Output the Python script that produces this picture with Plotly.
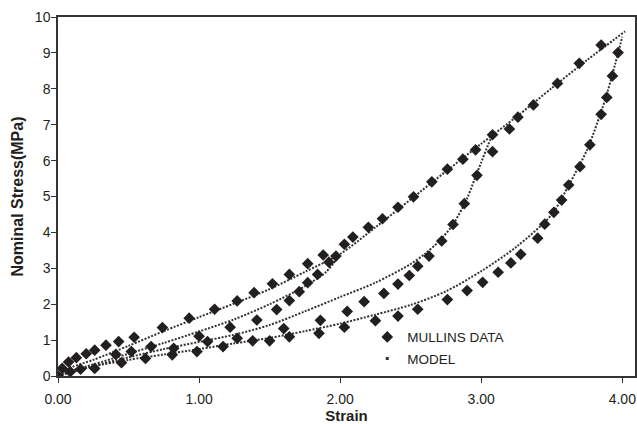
import plotly.graph_objects as go

# ---------------- data ----------------
# Mullins experimental data, branch by branch
load_x = [0, 0.03, 0.075, 0.13, 0.2, 0.26, 0.34, 0.43, 0.54, 0.74, 0.93, 1.11, 1.27, 1.39,
          1.52, 1.64, 1.77, 1.88, 2.03, 2.09, 2.20, 2.30, 2.41, 2.52, 2.65, 2.76, 2.87,
          2.96, 3.08, 3.20, 3.26, 3.37, 3.54, 3.695, 3.85]
load_y = [0, 0.21, 0.39, 0.51, 0.62, 0.72, 0.86, 0.96, 1.08, 1.35, 1.61, 1.86, 2.09, 2.32,
          2.57, 2.83, 3.13, 3.37, 3.67, 3.87, 4.14, 4.38, 4.70, 4.99, 5.41, 5.76, 6.04,
          6.30, 6.72, 6.88, 7.21, 7.55, 8.15, 8.71, 9.22]

unload2_x = [0.41, 0.66, 1.00, 1.22, 1.41, 1.55, 1.64, 1.71, 1.77, 1.84, 1.92, 1.97]
unload2_y = [0.60, 0.82, 1.11, 1.36, 1.56, 1.85, 2.10, 2.35, 2.60, 2.83, 3.17, 3.34]

unload3_x = [0.16, 0.52, 0.82, 1.06, 1.27, 1.60, 1.86, 2.05, 2.17, 2.31, 2.41, 2.49, 2.55,
             2.63, 2.72, 2.80, 2.88, 2.97, 3.08]
unload3_y = [0.19, 0.68, 0.77, 0.96, 1.05, 1.32, 1.55, 1.80, 2.07, 2.30, 2.56, 2.80, 3.06,
             3.34, 3.76, 4.22, 4.80, 5.59, 6.25]

unload4_x = [0.087, 0.26, 0.45, 0.62, 0.81, 0.985, 1.17, 1.38, 1.50, 1.64, 1.85, 2.03, 2.25,
             2.41, 2.55, 2.76, 2.90, 3.01, 3.12, 3.21, 3.28, 3.40, 3.45, 3.515, 3.57, 3.62,
             3.70, 3.77, 3.85, 3.89, 3.93, 3.97]
unload4_y = [0.12, 0.21, 0.37, 0.49, 0.59, 0.68, 0.82, 0.98, 0.98, 1.09, 1.19, 1.36, 1.54,
             1.67, 1.86, 2.13, 2.38, 2.61, 2.89, 3.15, 3.39, 3.84, 4.23, 4.56, 4.90, 5.32,
             5.83, 6.44, 7.29, 7.76, 8.36, 9.01]

# Model curves
m_load_x = [0, 0.05, 0.1, 0.25, 0.5, 0.75, 1.0, 1.25, 1.5, 1.75, 2.0, 2.25, 2.5, 2.75,
            3.0, 3.25, 3.5, 3.75, 4.02]
m_load_y = [0, 0.15, 0.25, 0.45, 0.84, 1.25, 1.64, 2.02, 2.42, 2.90, 3.40, 4.14, 4.92,
            5.70, 6.47, 7.22, 8.02, 8.80, 9.60]

m_un2_x = [0, 0.1, 0.25, 0.5, 0.75, 1.0, 1.25, 1.5, 1.75, 1.9, 2.0]
m_un2_y = [0, 0.15, 0.32, 0.62, 0.92, 1.24, 1.58, 2.00, 2.50, 2.90, 3.38]

m_un3_x = [0, 0.1, 0.25, 0.5, 0.75, 1.0, 1.25, 1.5, 1.75, 2.0, 2.25, 2.5, 2.6, 2.7, 2.8,
           2.9, 2.95, 3.0, 3.05, 3.08]
m_un3_y = [0, 0.12, 0.28, 0.52, 0.75, 0.95, 1.15, 1.42, 1.80, 2.20, 2.60, 3.12, 3.40,
           3.75, 4.22, 4.95, 5.45, 5.95, 6.45, 6.72]

m_un4_x = [0, 0.1, 0.25, 0.5, 0.75, 1.0, 1.25, 1.5, 1.75, 2.0, 2.25, 2.5, 2.75, 3.0, 3.25,
           3.5, 3.625, 3.75, 3.875, 3.95, 4.0]
m_un4_y = [0, 0.12, 0.27, 0.45, 0.60, 0.75, 0.91, 1.06, 1.25, 1.46, 1.71, 1.98, 2.36, 2.92,
           3.60, 4.50, 5.35, 6.30, 7.65, 8.70, 9.45]

x_ticks = [0, 1, 2, 3, 4]
x_tick_labels = ["0.00", "1.00", "2.00", "3.00", "4.00"]
y_ticks = list(range(0, 11))

# ---------------- figure ----------------
ink = "#231f20"
fig = go.Figure()

model_sets = [(m_load_x, m_load_y), (m_un2_x, m_un2_y), (m_un3_x, m_un3_y), (m_un4_x, m_un4_y)]
for mx, my in model_sets:
    fig.add_trace(go.Scatter(
        x=mx, y=my, mode="lines", showlegend=False, legendgroup="model",
        line=dict(color="#333333", width=2, dash="2px,1.5px", shape="spline", smoothing=0.8),
        hoverinfo="skip"))

data_x = load_x + unload2_x + unload3_x + unload4_x
data_y = load_y + unload2_y + unload3_y + unload4_y
fig.add_trace(go.Scatter(
    x=data_x, y=data_y, mode="markers", name="MULLINS DATA", legendgroup="data",
    marker=dict(symbol="diamond", size=9, color=ink)))

# legend entry for the model (dot symbol)
fig.add_trace(go.Scatter(
    x=[None], y=[None], mode="markers", name="MODEL", legendgroup="model",
    marker=dict(symbol="square", size=3, color="#333333")))

axis_common = dict(
    showline=True, linecolor="#333333", linewidth=1.5, mirror=True, automargin=False,
    showgrid=False, zeroline=False, ticks="outside", ticklen=5, tickwidth=1,
    tickcolor="#333333", tickfont=dict(family="Liberation Sans, Arial", size=14, color=ink),
)

fig.update_layout(
    width=637, height=424,
    margin=dict(l=58, r=2, t=17, b=48),
    paper_bgcolor="white", plot_bgcolor="white",
    xaxis=dict(range=[0, 4.09], tickvals=x_ticks, ticktext=x_tick_labels,
               ticklabelstandoff=4,
               title=dict(text="<b>Strain</b>", standoff=12,
                          font=dict(family="Liberation Sans, Arial", size=15, color=ink)),
               **axis_common),
    yaxis=dict(range=[0, 10], tickvals=y_ticks, ticklabelstandoff=-2,
               title=dict(text="<b>Nominal Stress(MPa)</b>", standoff=7,
                          font=dict(family="Liberation Sans, Arial", size=16, color=ink)),
               **axis_common),
    legend=dict(x=0.536, y=0.1515, xanchor="left", yanchor="top",
                bgcolor="rgba(0,0,0,0)", traceorder="grouped", tracegroupgap=1,
                font=dict(family="Liberation Sans, Arial", size=13.5, color=ink)),
    showlegend=True,
)

fig.write_html("out.html", config={"displayModeBar": False},
               post_script="document.body.style.margin='0';")
